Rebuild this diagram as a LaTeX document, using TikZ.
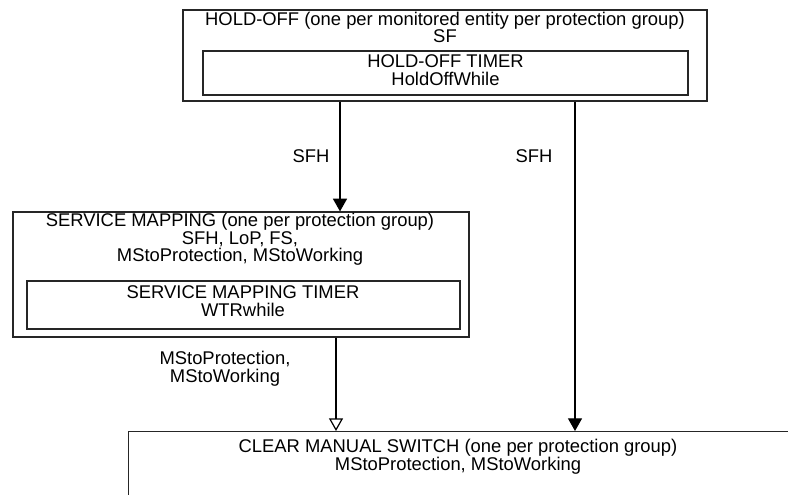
\documentclass[tikz,border=0pt]{standalone}
\usepackage{fontspec}
\setmainfont{Liberation Sans}
\usetikzlibrary{arrows.meta,positioning,calc}

\tikzset{
  frame/.style={draw=black!85, line width=0.9pt, inner sep=0pt},
  txt/.style={align=center, inner sep=0pt, font=\fontsize{13.8}{13.2}\selectfont},
  solidarr/.style={-{Triangle[length=9.5pt,width=10.5pt]}, line width=0.9pt},
  openarr/.style={-{Triangle[open,length=9.5pt,width=10.5pt]}, line width=0.9pt},
}

\begin{document}
\begin{tikzpicture}[x=0.75pt,y=-0.75pt]
  \useasboundingbox (0,0) rectangle (788,494);
  % hold-off block
  \node[frame, minimum width=524*0.75pt, minimum height=91*0.75pt] (hold) at (445,55.5) {};
  \node[frame, minimum width=485*0.75pt, minimum height=44*0.75pt] (holdtmr) at (445.5,73) {};
  \node[txt] (holdtxt) at (445,27.5) {HOLD-OFF (one per monitored entity per protection group)\\SF};
  \node[txt] (holdtmrtxt) at (445.5,70) {HOLD-OFF TIMER\\HoldOffWhile};
  % service mapping block
  \node[frame, minimum width=456*0.75pt, minimum height=125*0.75pt] (srv) at (241,274.5) {};
  \node[frame, minimum width=433*0.75pt, minimum height=48*0.75pt] (srvtmr) at (243.5,305) {};
  \node[txt] (srvtxt) at (240,239.5) {SERVICE MAPPING (one per protection group)\\SFH, LoP, FS,\\MStoProtection, MStoWorking};
  \node[txt] (srvtmrtxt) at (243,301) {SERVICE MAPPING TIMER\\WTRwhile};
  % clear manual switch (runs past the edge)
  \begin{scope}
    \clip (0,0) rectangle (788,494);
    \node[frame, anchor=north west, minimum width=700*0.75pt, minimum height=100*0.75pt] (clr) at (128,431) {};
  \end{scope}
  \node[txt] (clrtxt) at (458,456.5) {CLEAR MANUAL SWITCH (one per protection group)\\MStoProtection, MStoWorking};
  % connectors
  \coordinate (p1) at (340,0);
  \coordinate (p2) at (575,0);
  \coordinate (p3) at (336,0);
  \draw[solidarr] (p1 |- hold.south) -- (p1 |- srv.north);
  \draw[solidarr] (p2 |- hold.south) -- (p2 |- clr.north);
  \draw[openarr] (p3 |- srv.south) -- (p3 |- clr.north);
  \node[txt] (sfh1) at (311,156) {SFH};
  \node[txt] (sfh2) at (534,156) {SFH};
  \node[txt] (mslbl) at (225,369) {MStoProtection,\\MStoWorking};
\end{tikzpicture}
\end{document}
